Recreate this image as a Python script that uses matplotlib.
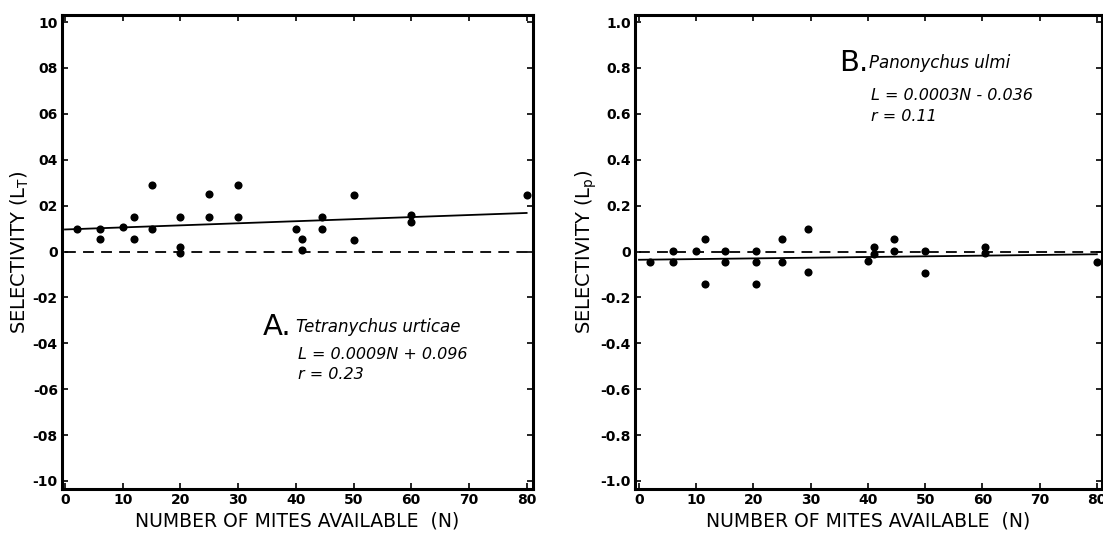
import numpy as np
import matplotlib
matplotlib.use("Agg")
import matplotlib.pyplot as plt

plt.rcParams["font.family"] = ["DejaVu Sans"]

# Panel A: Tetranychus urticae
N_A = [2, 6, 6, 10, 12, 12, 15, 15, 20, 20, 20, 25, 25, 30, 30,
       40, 41, 41, 44.5, 44.5, 50, 50, 60, 60, 80]
L_A = [0.10, 0.10, 0.055, 0.105, 0.15, 0.055, 0.10, 0.29, 0.15, 0.02, -0.005,
       0.25, 0.15, 0.29, 0.15, 0.10, 0.055, 0.007, 0.15, 0.10, 0.245, 0.05,
       0.16, 0.13, 0.245]
FIT_A = (0.0009, 0.096)

# Panel B: Panonychus ulmi
N_B = [2, 6, 6, 10, 11.5, 11.5, 15, 15, 20.5, 20.5, 20.5, 25, 25, 29.6, 29.6,
       40, 41, 41, 44.5, 44.5, 50, 50, 60.5, 60.5, 80]
L_B = [-0.044, 0.003, -0.047, 0.003, 0.053, -0.14, 0.003, -0.047, 0.003, -0.047,
       -0.14, 0.053, -0.047, 0.10, -0.09, -0.04, 0.018, -0.012, 0.053, 0.003,
       0.003, -0.095, 0.018, -0.007, -0.044]
FIT_B = (0.0003, -0.036)

X_TICKS = [0, 10, 20, 30, 40, 50, 60, 70, 80]
Y_TICKS = [-1.0, -0.8, -0.6, -0.4, -0.2, 0, 0.2, 0.4, 0.6, 0.8, 1.0]
Y_LABELS_A = ["-10", "-08", "-06", "-04", "-02", "0", "02", "04", "06", "08", "10"]
Y_LABELS_B = ["-1.0", "-0.8", "-0.6", "-0.4", "-0.2", "0", "0.2", "0.4", "0.6", "0.8", "1.0"]


def draw_panel(ax, n, l, fit, ylabels, ylabel, xlim):
    ax.set_xlim(*xlim)
    ax.set_ylim(-1.035, 1.03)
    # zero reference and regression line
    ax.plot([0, xlim[1]], [0, 0], color="black", lw=1.3, dashes=(6, 4))
    xs = np.array([0, 80])
    ax.plot(xs, fit[0] * xs + fit[1], color="black", lw=1.3)
    ax.scatter(n, l, s=34, color="black", zorder=3, linewidths=0)

    ax.set_xticks(X_TICKS)
    ax.set_xticklabels([str(t) for t in X_TICKS], fontsize=10, fontweight="bold")
    ax.set_yticks(Y_TICKS)
    ax.set_yticklabels(ylabels, fontsize=10, fontweight="bold")
    ax.tick_params(direction="in", length=4, width=1.2, top=True, right=True, pad=3)
    for s in ax.spines.values():
        s.set_linewidth(2.2)
    ax.set_xlabel("NUMBER OF MITES AVAILABLE  (N)", fontsize=13.5, labelpad=3)
    ax.set_ylabel(ylabel, fontsize=14, labelpad=1)


fig = plt.figure(figsize=(11.03, 5.36), dpi=100)
axA = fig.add_axes([0.0562, 0.0877, 0.427, 0.884])
axB = fig.add_axes([0.5757, 0.0877, 0.4234, 0.884])

draw_panel(axA, N_A, L_A, FIT_A, Y_LABELS_A, r"SELECTIVITY (L$_\mathregular{T}$)", (-0.52, 81.1))
draw_panel(axB, N_B, L_B, FIT_B, Y_LABELS_B, r"SELECTIVITY (L$_\mathregular{p}$)", (-0.7, 80.9))

axA.text(34.3, -0.33, "A.", fontsize=21, va="center", ha="left")
axA.text(40, -0.33, "Tetranychus urticae", fontsize=12, style="italic", va="center", ha="left")
axA.text(40.3, -0.45, "L = 0.0009N + 0.096", fontsize=11.5, style="italic", va="center", ha="left")
axA.text(40.3, -0.535, "r = 0.23", fontsize=11.5, style="italic", va="center", ha="left")

axB.text(35.0, 0.82, "B.", fontsize=21, va="center", ha="left")
axB.text(40.2, 0.82, "Panonychus ulmi", fontsize=12, style="italic", va="center", ha="left")
axB.text(40.5, 0.68, "L = 0.0003N - 0.036", fontsize=11.5, style="italic", va="center", ha="left")
axB.text(40.5, 0.59, "r = 0.11", fontsize=11.5, style="italic", va="center", ha="left")

fig.savefig("out.png", dpi=100)
